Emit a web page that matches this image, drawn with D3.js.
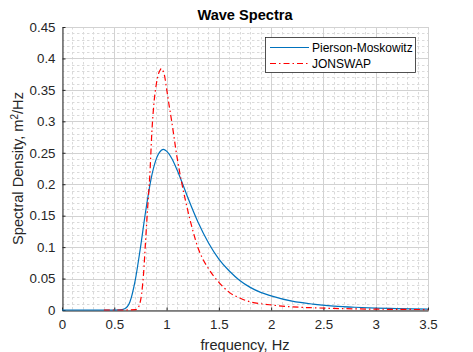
<!DOCTYPE html>
<html lang="en">
	<head>
		<meta charset="utf-8">
		<title>Wave Spectra</title>
		<script src="https://d3js.org/d3.v7.min.js"></script>
		<style>
			body { margin: 0; background: #fff; }
			text { font-family: "Liberation Sans", Arial, sans-serif; }
		</style>
	</head>
	<body>
		<script type="text/javascript">

			// data
			var pmFreq = [0, 0.5, 0.55, 0.6, 0.65, 0.7, 0.75, 0.8, 0.85, 0.9, 0.95, 0.97, 1.0, 1.05, 1.1, 1.15, 1.2, 1.3, 1.4, 1.5, 1.6, 1.7, 1.8, 1.9, 2.0, 2.2, 2.4, 2.6, 2.8, 3.0, 3.2, 3.5];
			var pmVals = [0, 0, 0.0001, 0.002, 0.013, 0.047, 0.099, 0.157, 0.207, 0.2395, 0.254, 0.2555, 0.2527, 0.241, 0.223, 0.202, 0.180, 0.140, 0.107, 0.081, 0.062, 0.047, 0.036, 0.028, 0.0225, 0.014, 0.0093, 0.0063, 0.0044, 0.0031, 0.0023, 0.0014];

			var jsFreq = [0.4, 0.6, 0.7, 0.72, 0.74, 0.76, 0.78, 0.8, 0.82, 0.84, 0.86, 0.88, 0.9, 0.92, 0.94, 0.95, 0.96, 0.98, 1.0, 1.02, 1.05, 1.1, 1.15, 1.2, 1.25, 1.3, 1.35, 1.4, 1.45, 1.5, 1.6, 1.7, 1.8, 1.9, 2.0, 2.2, 2.4, 2.6, 2.8, 3.0, 3.2, 3.5];
			var jsVals = [0, 0, 0.0005, 0.002, 0.008, 0.024, 0.058, 0.112, 0.165, 0.215, 0.285, 0.330, 0.357, 0.374, 0.382, 0.384, 0.382, 0.373, 0.352, 0.330, 0.299, 0.243, 0.198, 0.160, 0.127, 0.099, 0.080, 0.066, 0.054, 0.044, 0.028, 0.019, 0.013, 0.010, 0.008, 0.005, 0.0035, 0.0025, 0.0018, 0.0013, 0.001, 0.0007];

			var xTicks = [0, 0.5, 1, 1.5, 2, 2.5, 3, 3.5];
			var yTicks = [0, 0.05, 0.1, 0.15, 0.2, 0.25, 0.3, 0.35, 0.4, 0.45];
			var seriesNames = ["Pierson-Moskowitz", "JONSWAP"];
			var seriesColors = ["#0072BD", "#FF0000"];

			//    svg size and plot box (plotTop, not top: window.top is read-only)
			var w = 473;
			var h = 352;
			var plotLeft = 62, plotRight = 428, plotTop = 27, plotBottom = 310;

			var xScale = d3.scaleLinear().domain([0, 3.5]).range([plotLeft, plotRight]);
			var yScale = d3.scaleLinear().domain([0, 0.45]).range([plotBottom, plotTop]);

			var svg = d3.select("body").append("svg").attr("width", w).attr("height", h);

			//    minor grid (dotted)
			var xMinor = d3.range(0, 3.5001, 0.1).filter(function(d) { return Math.abs(d*2 - Math.round(d*2)) > 1e-6; });
			var yMinor = d3.range(0, 0.45001, 0.01).filter(function(d) { return Math.abs(d*20 - Math.round(d*20)) > 1e-6; });

			svg.append("g").selectAll("line").data(xMinor).enter().append("line")
				.attr("x1", function(d) { return Math.round(xScale(d)) + 0.5; })
				.attr("x2", function(d) { return Math.round(xScale(d)) + 0.5; })
				.attr("y1", plotTop).attr("y2", plotBottom)
				.attr("stroke", "#dadada").attr("stroke-dasharray", "2.5,2.5");

			svg.append("g").selectAll("line").data(yMinor).enter().append("line")
				.attr("y1", function(d) { return Math.round(yScale(d)) + 0.5; })
				.attr("y2", function(d) { return Math.round(yScale(d)) + 0.5; })
				.attr("x1", plotLeft).attr("x2", plotRight)
				.attr("stroke", "#dadada").attr("stroke-dasharray", "2.5,2.5");

			//    major grid
			svg.append("g").selectAll("line").data(xTicks).enter().append("line")
				.attr("x1", function(d) { return Math.round(xScale(d)) + 0.5; })
				.attr("x2", function(d) { return Math.round(xScale(d)) + 0.5; })
				.attr("y1", plotTop).attr("y2", plotBottom)
				.attr("stroke", "#d2d2d2");

			svg.append("g").selectAll("line").data(yTicks).enter().append("line")
				.attr("y1", function(d) { return Math.round(yScale(d)) + 0.5; })
				.attr("y2", function(d) { return Math.round(yScale(d)) + 0.5; })
				.attr("x1", plotLeft).attr("x2", plotRight)
				.attr("stroke", "#d2d2d2");

			//    axes (ticks point inward, MATLAB style)
			var xAxis = d3.axisBottom(xScale).tickValues(xTicks).tickSizeInner(-3).tickSizeOuter(0).tickPadding(9)
				.tickFormat(function(d) { return String(d); });
			var yAxis = d3.axisLeft(yScale).tickValues(yTicks).tickSizeInner(-3).tickSizeOuter(0).tickPadding(7)
				.tickFormat(function(d) { return String(d); });

			var gx = svg.append("g").attr("transform", "translate(0," + (plotBottom + 0.5) + ")").call(xAxis);
			var gy = svg.append("g").attr("transform", "translate(" + (plotLeft + 0.5) + ",0)").call(yAxis);

			[gx, gy].forEach(function(g) {
				g.select(".domain").attr("stroke", "#262626");
				g.selectAll(".tick line").attr("stroke", "#262626");
				g.selectAll(".tick text").attr("font-size", "13.3px").attr("fill", "#262626")
					.attr("font-family", "Liberation Sans, Arial, sans-serif");
			});

			//    curves
			var line = d3.line()
				.x(function(d) { return xScale(d[0]); })
				.y(function(d) { return yScale(d[1]); })
				.curve(d3.curveMonotoneX);

			var pmData = pmFreq.map(function(f, i) { return [f, pmVals[i]]; });
			var jsData = jsFreq.map(function(f, i) { return [f, jsVals[i]]; });

			svg.append("path").datum(pmData).attr("d", line)
				.attr("fill", "none").attr("stroke", seriesColors[0]).attr("stroke-width", 1.2);

			svg.append("path").datum(jsData).attr("d", line)
				.attr("fill", "none").attr("stroke", seriesColors[1]).attr("stroke-width", 1.2)
				.attr("stroke-dasharray", "6,3,1.5,3");

			//    title and labels
			svg.append("text").attr("x", (plotLeft + plotRight) / 2).attr("y", 20)
				.attr("text-anchor", "middle").attr("font-size", "14.6px").attr("font-weight", "bold")
				.attr("fill", "#000").text("Wave Spectra");

			svg.append("text").attr("x", (plotLeft + plotRight) / 2).attr("y", 350)
				.attr("text-anchor", "middle").attr("font-size", "14.6px").attr("fill", "#262626")
				.text("frequency, Hz");

			var yl = svg.append("text")
				.attr("transform", "translate(23," + ((plotTop + plotBottom) / 2) + ") rotate(-90)")
				.attr("text-anchor", "middle").attr("font-size", "14.6px").attr("fill", "#262626");
			yl.append("tspan").text("Spectral Density, m");
			yl.append("tspan").attr("baseline-shift", "super").attr("font-size", "10px").text("2");
			yl.append("tspan").text("/Hz");

			//    legend
			var lg = svg.append("g");
			lg.append("rect").attr("x", 265.5).attr("y", 37.5).attr("width", 150).attr("height", 35)
				.attr("fill", "#fff").attr("stroke", "#262626").attr("stroke-width", 0.8);

			var legDash = [null, "6,3,1.5,3"];
			seriesNames.forEach(function(name, i) {
				var yy = 47.5 + i * 16;
				lg.append("line").attr("x1", 270).attr("x2", 309).attr("y1", yy).attr("y2", yy)
					.attr("stroke", seriesColors[i]).attr("stroke-width", 1.2)
					.attr("stroke-dasharray", legDash[i]);
				lg.append("text").attr("x", 312).attr("y", yy + 4.3)
					.attr("font-size", "12px").attr("fill", "#000").text(name);
			});

		</script>
	</body>
</html>
